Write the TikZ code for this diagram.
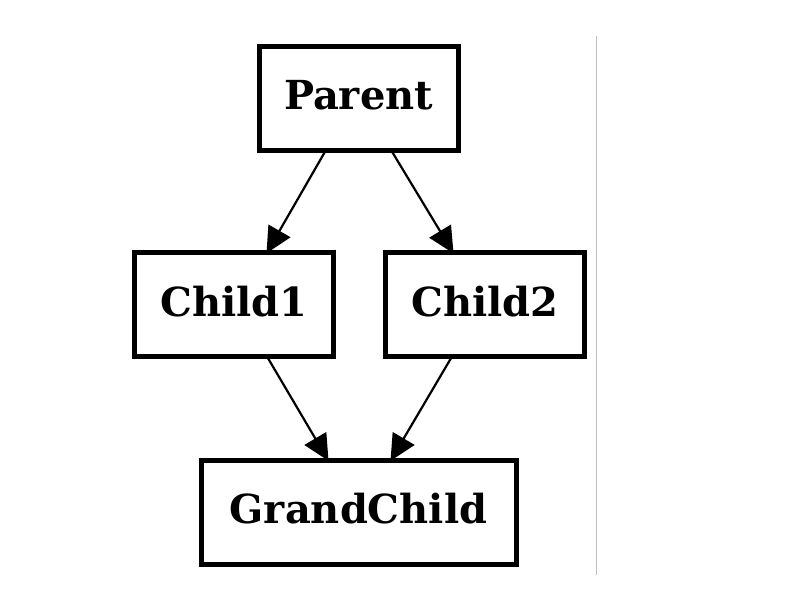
\documentclass[tikz,border=0pt]{standalone}
\usepackage{fontspec}
\setmainfont{DejaVu Serif}
\usetikzlibrary{arrows.meta}
\begin{document}
\begin{tikzpicture}[x=1pt,y=-1pt,
  box/.style={draw=black,line width=5pt,fill=white,minimum width=199pt,minimum height=104pt,inner sep=0pt,outer sep=0pt,text height=29pt,text depth=6pt,font=\fontsize{40}{46}\selectfont\bfseries},
  link/.style={line width=2.2pt,-{Triangle[length=26pt,width=25pt]},shorten >=-1pt}]
\useasboundingbox (0,0) rectangle (800,600);
\fill[white] (0,0) rectangle (800,600);
\draw[line width=1pt,black!25] (596,36) -- (596,575);
\node[box] (p) at (358.5,98) {Parent};
\node[box] (c1) at (234,304.5) {Child1};
\node[box] (c2) at (485,304.5) {Child2};
\node[box,minimum width=315pt] (g) at (358.5,512) {GrandChild};
\draw[link] ([xshift=-32.5pt]p.south) -- ([xshift=33pt]c1.north);
\draw[link] ([xshift=32.5pt]p.south) -- ([xshift=-32pt]c2.north);
\draw[link] ([xshift=33pt]c1.south) -- ([xshift=-30.5pt]g.north);
\draw[link] ([xshift=-33pt]c2.south) -- ([xshift=32.5pt]g.north);
\end{tikzpicture}
\end{document}
